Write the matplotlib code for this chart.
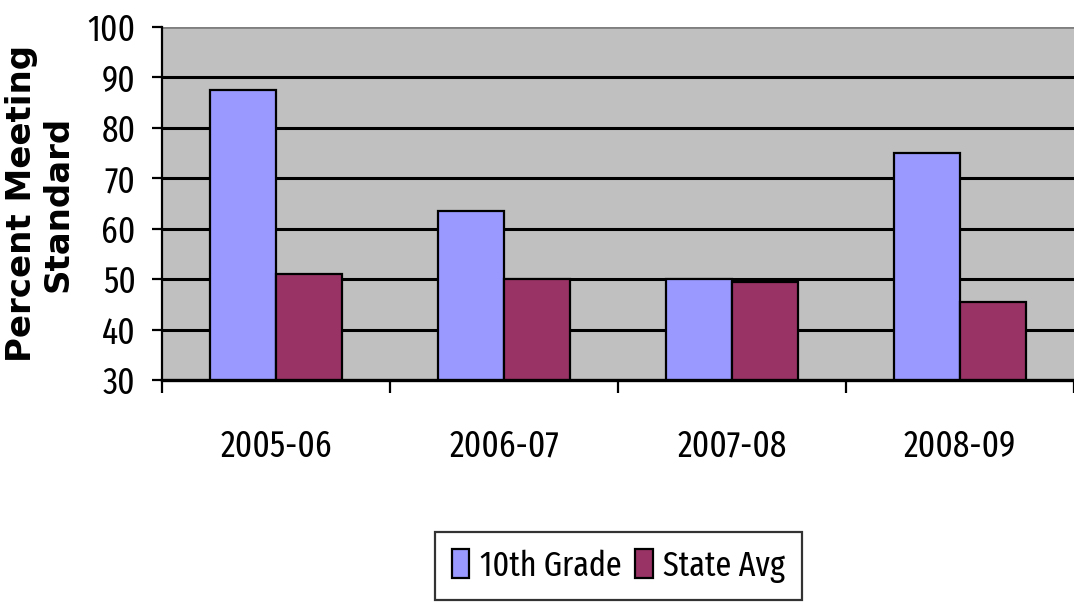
import numpy as np
import matplotlib
matplotlib.use("Agg")
import matplotlib.pyplot as plt
from matplotlib import font_manager
from matplotlib.font_manager import FontProperties

# Data
years = ["2005-06", "2006-07", "2007-08", "2008-09"]
grade10 = [87.5, 63.6, 50.0, 75.0]
state_avg = [51.0, 50.1, 49.4, 45.4]
series_names = ["10th Grade", "State Avg"]
yticks = [30, 40, 50, 60, 70, 80, 90, 100]

BLUE = "#9999FF"
MAROON = "#993366"
PLOT_BG = "#C0C0C0"


def find_narrow_font():
    # look for a condensed / narrow regular sans face, most condensed first
    rank = {"extra-condensed": 0, "condensed": 1, "ultra-condensed": 2, "semi-condensed": 3}
    best = None
    for f in font_manager.fontManager.ttflist:
        if f.style != "normal" or f.weight not in (400, "normal", "regular", "book"):
            continue
        name = f.name.lower()
        if "mono" in name or "serif" in name and "sans" not in name:
            continue
        stretch = str(f.stretch)
        if "narrow" in name:
            r = 1
        elif "extracondensed" in name.replace(" ", "") or stretch == "extra-condensed":
            r = 0
        elif "condensed" in name or stretch in rank:
            r = rank.get(stretch, 1)
        else:
            continue
        if best is None or r < best[0]:
            best = (r, f.fname)
    return best


narrow = find_narrow_font()
if narrow is not None:
    def tf(size):
        return FontProperties(fname=narrow[1], size=size)
    ysize, xsize, lsize = 26, 26, 25
else:
    def tf(size):
        return FontProperties(family="Liberation Sans", size=size)
    ysize, xsize, lsize = 20, 21, 20

fig = plt.figure(figsize=(10.74, 6.08), dpi=100)
ax = fig.add_axes([162 / 1074, 1 - 380 / 608, 912 / 1074, 353 / 608])
ax.set_facecolor(PLOT_BG)

x = np.arange(len(years))
w = 0.29
ax.bar(x - w / 2, grade10, width=w, color=BLUE, edgecolor="black", linewidth=1.6,
       label=series_names[0], zorder=3)
ax.bar(x + w / 2, state_avg, width=w, color=MAROON, edgecolor="black", linewidth=1.6,
       label=series_names[1], zorder=3)

ax.set_xlim(-0.5, len(years) - 0.5)
ax.set_ylim(30, 100)

# gridlines (black, top border gray)
for v in yticks[1:-1]:
    ax.axhline(v, color="black", linewidth=2.2, zorder=1)
ax.axhline(100, color="#808080", linewidth=2.0, zorder=1)

for s in ["top", "right"]:
    ax.spines[s].set_visible(False)
ax.spines["left"].set_linewidth(1.6)
ax.spines["bottom"].set_linewidth(2.4)
ax.spines["left"].set_zorder(4)
ax.spines["bottom"].set_zorder(4)

ax.set_yticks(yticks)
ax.set_yticklabels([str(v) for v in yticks], fontproperties=tf(ysize))
ax.tick_params(axis="y", length=7, width=1.6, pad=12)

ax.set_xticks(x)
ax.set_xticklabels(years, fontproperties=tf(xsize))
ax.tick_params(axis="x", which="major", length=0, pad=35)
ax.set_xticks(np.arange(-0.5, len(years), 1.0), minor=True)
ax.tick_params(axis="x", which="minor", length=9, width=1.6, direction="out")

ax.set_ylabel("Percent Meeting\nStandard", family="DejaVu Sans", fontweight="bold",
              fontsize=24.5, linespacing=1.1)
ax.yaxis.label.set_va("center")
ax.yaxis.set_label_coords(-0.134, 0.5)

leg = fig.legend(loc="center", bbox_to_anchor=(618.5 / 1074, 1 - 566 / 608), ncol=2,
                 prop=tf(lsize), frameon=True, fancybox=False,
                 edgecolor="black", handlelength=0.5, handleheight=0.9,
                 handletextpad=0.3, columnspacing=0.4, borderpad=0.5)
leg.get_frame().set_linewidth(1.6)

fig.savefig("out.png", dpi=100)
